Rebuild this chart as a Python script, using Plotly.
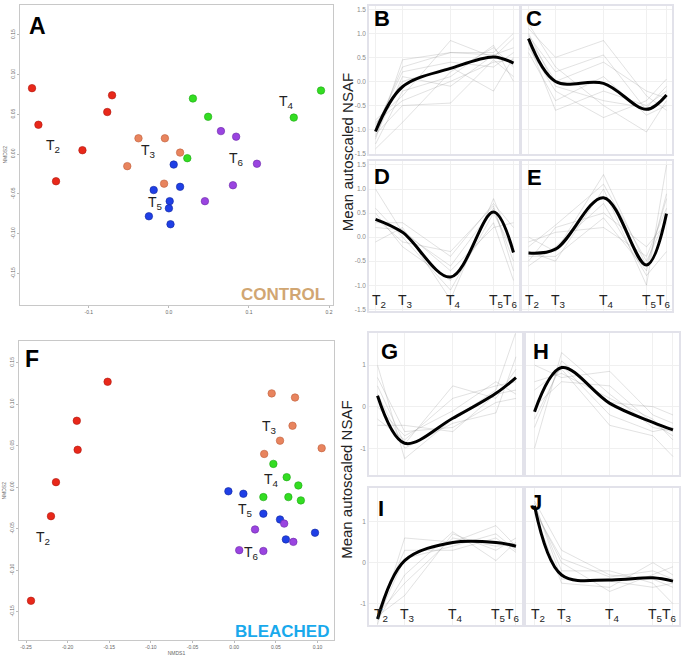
import plotly.graph_objects as go

W, H = 685, 664
FONT = "Liberation Sans, Arial, sans-serif"

# ---------------- NMDS data ----------------
GROUPS = ["T2", "T3", "T4", "T5", "T6"]
COLORS = ["#e8281a", "#e8845e", "#33dd22", "#1f3fe6", "#9a44e0"]
EDGE = ["#b01a10", "#c0603c", "#1fa816", "#13289e", "#6c2aa8"]

CTRL_X = {
    "T2": [-0.171, -0.163, -0.141, -0.108, -0.077, -0.071],
    "T3": [-0.038, -0.005, 0.014, -0.052, -0.006],
    "T4": [0.030, 0.049, 0.023, 0.156, 0.190],
    "T5": [0.006, 0.014, -0.019, 0.001, 0.000, -0.025, 0.002],
    "T6": [0.065, 0.084, 0.110, 0.080, 0.045],
}
CTRL_Y = {
    "T2": [0.083, 0.037, -0.034, 0.005, 0.053, 0.074],
    "T3": [0.020, 0.020, 0.002, -0.015, -0.037],
    "T4": [0.070, 0.047, -0.005, 0.046, 0.080],
    "T5": [-0.013, -0.041, -0.045, -0.059, -0.068, -0.078, -0.088],
    "T6": [0.029, 0.022, -0.012, -0.039, -0.059],
}
CTRL_LAB = {"T2": (-0.145, 0.010), "T3": (-0.026, 0.004), "T4": (0.147, 0.066),
            "T5": (-0.017, -0.061), "T6": (0.085, -0.006)}

BL_X = {
    "T2": [-0.152, -0.189, -0.188, -0.214, -0.220, -0.244],
    "T3": [0.045, 0.073, 0.070, 0.055, 0.105, 0.036],
    "T4": [0.047, 0.063, 0.077, 0.035, 0.065, 0.080],
    "T5": [-0.007, 0.011, 0.035, 0.055, 0.062, 0.097],
    "T6": [0.060, 0.025, 0.071, 0.006, 0.035],
}
BL_Y = {
    "T2": [0.127, 0.080, 0.045, 0.006, -0.035, -0.137],
    "T3": [0.113, 0.108, 0.074, 0.056, 0.047, 0.040],
    "T4": [0.028, 0.012, 0.002, -0.012, -0.012, -0.016],
    "T5": [-0.005, -0.008, -0.032, -0.039, -0.063, -0.055],
    "T6": [-0.044, -0.051, -0.066, -0.076, -0.077],
}
BL_LAB = {"T2": (-0.229, -0.061), "T3": (0.042, 0.073), "T4": (0.045, 0.009),
          "T5": (0.014, -0.027), "T6": (0.021, -0.080)}

CTRL_XTICKS = [-0.1, 0.0, 0.1, 0.2]
CTRL_XTEXT = ["-0.1", "0.0", "0.1", "0.2"]
NMDS_YTICKS = [-0.15, -0.10, -0.05, 0.0, 0.05, 0.10, 0.15]
NMDS_YTEXT = ["-0.15", "-0.10", "-0.05", "0.00", "0.05", "0.10", "0.15"]
BL_XTICKS = [-0.25, -0.20, -0.15, -0.10, -0.05, 0.0, 0.05, 0.10]
BL_XTEXT = ["-0.25", "-0.20", "-0.15", "-0.10", "-0.05", "0.00", "0.05", "0.10"]

# ---------------- profile data ----------------
TIME_LABELS = ["T<sub>2</sub>", "T<sub>3</sub>", "T<sub>4</sub>", "T<sub>5</sub>", "T<sub>6</sub>"]
TIME_X = [0, 27, 75, 118, 138]

MEANS = {
    "B": [-1.04, -0.11, 0.27, 0.51, 0.38],
    "C": [0.89, 0.00, -0.04, -0.58, -0.28],
    "D": [0.37, 0.10, -0.83, 0.52, -0.32],
    "E": [-0.33, -0.25, 0.82, -0.58, 0.49],
    "G": [0.26, -0.88, -0.28, 0.32, 0.70],
    "H": [-0.12, 0.94, 0.08, -0.38, -0.56],
    "I": [-1.37, 0.05, 0.49, 0.49, 0.40],
    "J": [1.38, -0.30, -0.42, -0.37, -0.45],
}
PROFILES = {
    "B": [[-1.2, 0.45, 0.6, 0.55, 0.4], [-0.8, -0.3, 0.85, 0.5, 0.9],
          [-1.4, -0.85, 0.2, 0.7, 0.3], [-0.95, 0.2, 0.4, 0.3, 0.6],
          [-1.1, -0.5, -0.45, 0.45, 0.1], [-0.9, 0.0, 0.3, -0.2, 0.5],
          [-1.3, -0.2, 0.1, 0.75, 0.0], [-1.0, 0.3, 0.6, 0.6, 1.0],
          [-0.85, -0.4, 0.0, 0.4, 0.45], [-1.15, 0.1, -0.1, 0.55, 0.7]],
    "C": [[1.1, 0.5, 0.85, -0.3, -0.6], [0.8, -0.6, -0.2, -0.5, -0.2],
          [0.95, 0.2, 0.55, -0.6, -0.3], [0.7, -0.2, -0.75, -0.4, 0.05],
          [1.2, 0.3, -0.5, -1.05, -0.4], [0.6, -0.4, 0.1, -0.7, -0.5],
          [0.9, 0.0, 0.4, -0.2, -0.35], [1.0, -0.1, -0.4, -0.55, -0.1]],
    "D": [[1.0, 0.1, -0.6, 0.6, -0.5], [-0.1, 0.2, -1.3, 0.8, -0.2],
          [0.5, -0.2, -0.9, 0.3, -0.9], [0.3, 0.3, -0.4, 0.7, 0.2],
          [0.6, 0.0, -1.1, 0.5, -0.3], [0.2, 0.15, -0.7, 0.2, 0.3],
          [0.4, -0.1, -0.3, 0.65, -0.7]],
    "E": [[0.0, -0.3, 1.3, -0.6, 0.8], [-0.5, 0.2, 0.5, -0.2, 0.3],
          [-0.3, -0.5, 1.0, -1.0, 1.5], [-0.1, 0.1, 0.2, -0.4, 0.6],
          [-0.6, -0.2, 0.7, -0.8, -0.3], [-0.2, 0.25, 1.1, -0.5, 0.4],
          [-0.4, -0.4, 0.4, -0.7, 0.9]],
    "G": [[1.0, -1.25, -0.3, 0.4, 1.8], [-0.45, -0.45, -0.6, 0.3, 0.4],
          [0.5, -0.9, 0.5, 0.2, 0.9], [0.0, -0.7, -0.1, 0.6, 0.3],
          [0.3, -1.0, -0.4, -0.15, 1.2], [-0.3, -0.8, 0.2, 0.5, 0.6],
          [0.7, -0.6, -0.5, 0.1, 0.2]],
    "H": [[-1.0, 1.3, 0.3, -0.5, -0.6], [1.0, 0.7, 0.85, -0.2, -0.4],
          [0.4, 0.9, -0.45, -0.7, -1.2], [-0.5, 1.1, 0.1, 0.0, -0.2],
          [0.0, 0.6, 0.5, -0.4, -0.7], [-0.3, 1.0, -0.2, -0.6, -0.5],
          [0.6, 0.8, 0.2, -0.3, -0.8]],
    "I": [[-1.5, 0.6, 0.5, 0.9, 0.4], [-1.3, -0.8, 0.7, 0.3, 0.6],
          [-1.2, 0.3, 0.3, 0.6, 0.25], [-1.4, -0.3, 0.75, 0.05, 0.5],
          [-1.35, 0.1, 0.4, 0.7, 0.3], [-1.25, -0.5, 0.6, 0.4, 0.45]],
    "J": [[1.5, 0.3, -0.3, -0.4, -0.6], [1.2, -0.5, -0.6, 0.0, -0.3],
          [1.4, -0.2, -0.2, -0.5, -1.0], [1.3, 0.0, -0.7, -0.3, -0.1],
          [1.45, -0.4, -0.45, -0.6, -0.5], [1.25, 0.1, -0.35, -0.2, -0.4]],
}
TOP_YTICKS = [-1.5, -1.0, -0.5, 0.0, 0.5, 1.0, 1.5]
TOP_YTEXT = ["-1.5", "-1.0", "-0.5", "0.0", "0.5", "1.0", "1.5"]
BOT_YTICKS = [-1, 0, 1]
BOT_YTEXT = ["-1", "0", "1"]


def fx(p):
    return p / W


def fy(p):
    return 1 - p / H


def ann(**kw):
    d = dict(showarrow=False, xanchor="center", yanchor="middle")
    d.update(kw)
    return d


fig = go.Figure()
layout = dict(width=W, height=H, margin=dict(l=0, r=0, t=0, b=0),
              paper_bgcolor="white", plot_bgcolor="white", showlegend=False,
              font=dict(family=FONT, color="#222"))
annotations = []

# ---------------- NMDS panels ----------------
nmds = [
    ("", "", CTRL_X, CTRL_Y, CTRL_LAB, (20, 333), (5, 306), [-0.186, 0.205], [-0.189, 0.1875],
     CTRL_XTICKS, CTRL_XTEXT, "A", (37, 26), "CONTROL", "#d1a672", (283, 296), ""),
    ("2", "2", BL_X, BL_Y, BL_LAB, (19, 334), (343, 643), [-0.2584, 0.1198], [-0.1844, 0.1756],
     BL_XTICKS, BL_XTEXT, "F", (32, 361), "BLEACHED", "#19a9ec", (282, 634), "NMDS1"),
]
for (xs, ys, DX, DY, LAB, xd, yd, xr, yr, xt, xtt, letter, lpos, tag, tcol, tpos, xtitle) in nmds:
    xa, ya = "x" + xs, "y" + ys
    for g, c, e in zip(GROUPS, COLORS, EDGE):
        fig.add_trace(go.Scatter(x=DX[g], y=DY[g], mode="markers", xaxis=xa, yaxis=ya,
                                 marker=dict(size=7.5, color=c, line=dict(width=0.6, color=e))))
        lx, ly = LAB[g]
        annotations.append(ann(x=lx, y=ly, xref=xa, yref=ya,
                               text="T<sub>%s</sub>" % g[1], font=dict(size=14, color="#222")))
    layout["xaxis" + xs] = dict(domain=[fx(xd[0]), fx(xd[1])], range=xr, anchor=ya,
                                tickvals=xt, ticktext=xtt, ticks="outside", ticklen=2,
                                tickcolor="#bbb", tickfont=dict(size=5, color="#666"),
                                showgrid=False, zeroline=False, showline=True, mirror=True,
                                linecolor="#c8c8c8", linewidth=1,
                                title=dict(text=xtitle, font=dict(size=5, color="#666"), standoff=2))
    layout["yaxis" + ys] = dict(domain=[fy(yd[1]), fy(yd[0])], range=yr, anchor=xa,
                                tickvals=NMDS_YTICKS, ticktext=NMDS_YTEXT, ticks="outside",
                                ticklen=2, tickcolor="#bbb", tickangle=-90,
                                tickfont=dict(size=5, color="#666"),
                                showgrid=False, zeroline=False, showline=True, mirror=True,
                                linecolor="#c8c8c8", linewidth=1,
                                title=dict(text="NMDS2", font=dict(size=5, color="#666"), standoff=2))
    annotations.append(ann(x=fx(lpos[0]), y=fy(lpos[1]), xref="paper", yref="paper",
                           text="<b>%s</b>" % letter, font=dict(size=23, color="black")))
    annotations.append(ann(x=fx(tpos[0]), y=fy(tpos[1]), xref="paper", yref="paper",
                           text="<b>%s</b>" % tag, font=dict(size=17, color=tcol)))

# ---------------- profile panels ----------------
panels = [
    ("B", 3, (369, 519), (6, 155), [-6.5, 143.5], [-1.514, 1.568], True, False, (382, 19)),
    ("C", 4, (522, 672), (6, 155), [-6.5, 143.5], [-1.514, 1.568], False, False, (534, 19)),
    ("D", 5, (369, 519), (162, 312), [-6.5, 143.5], [-1.527, 1.577], True, True, (382, 177)),
    ("E", 6, (522, 672), (162, 312), [-6.5, 143.5], [-1.527, 1.577], False, True, (534, 178)),
    ("G", 7, (369, 522), (335, 477), [-8.5, 144], [-1.64, 1.76], True, False, (389, 353)),
    ("H", 8, (526, 679), (335, 477), [-8.5, 144], [-1.64, 1.76], False, False, (541, 353)),
    ("I", 9, (369, 522), (490, 628), [-8.5, 144], [-1.52, 1.82], True, True, (381, 511)),
    ("J", 10, (526, 679), (490, 628), [-8.5, 144], [-1.52, 1.82], False, True, (536, 505)),
]
for name, n, xd, yd, xr, yr, showy, showt, lpos in panels:
    xa, ya = "x%d" % n, "y%d" % n
    for prof in PROFILES[name]:
        fig.add_trace(go.Scatter(x=TIME_X, y=prof, mode="lines", xaxis=xa, yaxis=ya,
                                 line=dict(color="rgba(140,140,140,0.25)", width=1),
                                 hoverinfo="skip"))
    fig.add_trace(go.Scatter(x=TIME_X, y=MEANS[name], mode="lines", xaxis=xa, yaxis=ya,
                             line=dict(color="black", width=3, shape="spline", smoothing=1.0)))
    top = n <= 6
    yt, ytt = (TOP_YTICKS, TOP_YTEXT) if top else (BOT_YTICKS, BOT_YTEXT)
    layout["xaxis%d" % n] = dict(domain=[fx(xd[0]), fx(xd[1])], range=xr, anchor=ya,
                                 tickvals=TIME_X, showticklabels=False, ticks="",
                                 showgrid=True, gridcolor="#f0f0f0", gridwidth=1,
                                 zeroline=False, showline=True, mirror=True,
                                 linecolor="#e2e2ea", linewidth=1.5)
    layout["yaxis%d" % n] = dict(domain=[fy(yd[1]), fy(yd[0])], range=yr, anchor=xa,
                                 tickvals=yt, ticktext=ytt, showticklabels=showy, ticks="",
                                 tickfont=dict(size=6.5, color="#8a8a8a"),
                                 showgrid=True, gridcolor="#f0f0f0", gridwidth=1,
                                 zeroline=False, showline=True, mirror=True,
                                 linecolor="#e2e2ea", linewidth=1.5)
    annotations.append(ann(x=fx(lpos[0]), y=fy(lpos[1]), xref="paper", yref="paper",
                           text="<b>%s</b>" % name, font=dict(size=22, color="black")))
    if showt:
        ty = fy(yd[1] - 10)
        for i, (tx, tl) in enumerate(zip(TIME_X, TIME_LABELS)):
            annotations.append(ann(x=tx, y=ty, xref=xa, yref="paper",
                                   text=tl, xshift=(-3 if i == 4 else 3),
                                   font=dict(size=14, color="#222")))

for cy in (153, 482):
    annotations.append(ann(x=fx(347), y=fy(cy), xref="paper", yref="paper",
                           text="Mean autoscaled NSAF", textangle=-90,
                           font=dict(size=15, color="#222")))

layout["annotations"] = annotations
fig.update_layout(**layout)
fig.write_html("out.html")
